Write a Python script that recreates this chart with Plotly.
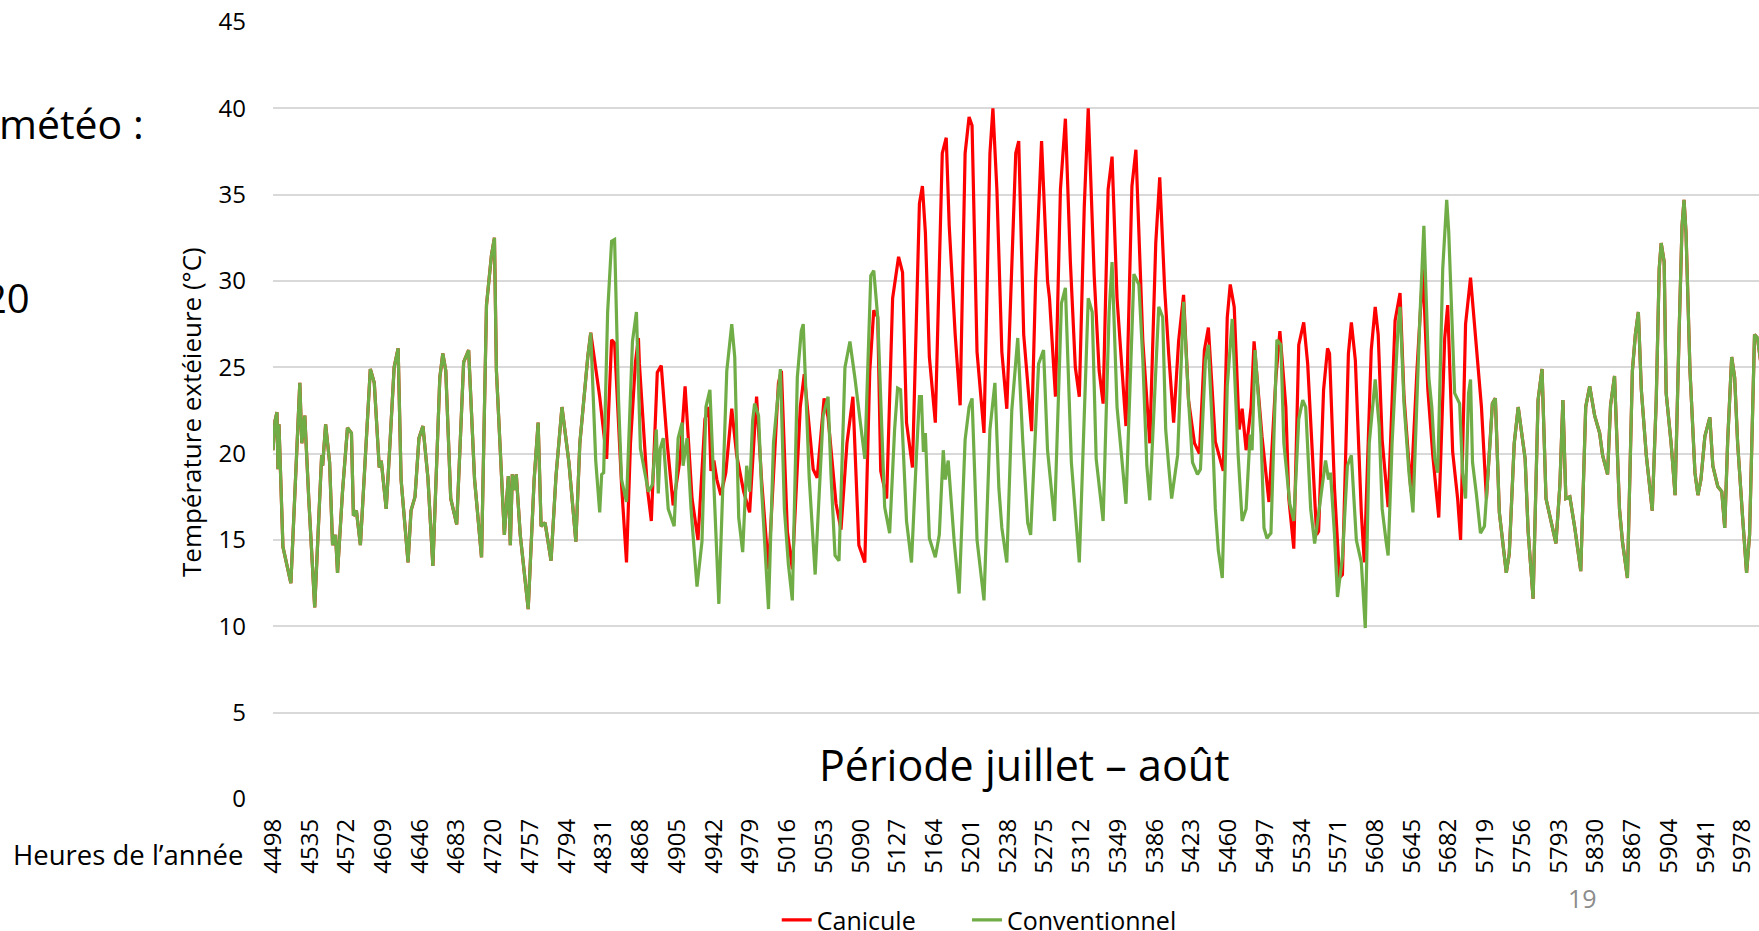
import plotly.graph_objects as go

# Heures de l'année (axe X) – étiquettes affichées
tick_hours = [4498, 4535, 4572, 4609, 4646, 4683, 4720, 4757, 4794, 4831, 4868,
              4905, 4942, 4979, 5016, 5053, 5090, 5127, 5164, 5201, 5238, 5275,
              5312, 5349, 5386, 5423, 5460, 5497, 5534, 5571, 5608, 5645, 5682,
              5719, 5756, 5793, 5830, 5867, 5904, 5941, 5978]

# Conventionnel : points relevés (heure, température)
conv_hours = [4498, 4500, 4502, 4503, 4504, 4508, 4516, 4525, 4527, 4530, 4534, 4540,
              4547, 4548, 4551, 4555, 4558, 4561, 4563, 4568, 4573, 4577, 4579, 4582,
              4586, 4591, 4596, 4600, 4605, 4607, 4612, 4616, 4620, 4624, 4627, 4634,
              4637, 4641, 4645, 4649, 4654, 4659, 4666, 4669, 4672, 4677, 4683, 4690,
              4695, 4701, 4708, 4713, 4718, 4721, 4723, 4731, 4735, 4737, 4739, 4741,
              4743, 4747, 4755, 4761, 4765, 4768, 4772, 4778, 4783, 4789, 4796, 4803,
              4807, 4815, 4818, 4823, 4827, 4829, 4831, 4835, 4839, 4842, 4846, 4849,
              4854, 4860, 4864, 4868, 4872, 4876, 4880, 4884, 4886, 4888, 4891, 4896,
              4902, 4906, 4910, 4911, 4915, 4919, 4925, 4930, 4934, 4938, 4947, 4955,
              4960, 4963, 4967, 4971, 4975, 4978, 4981, 4983, 4987, 4990, 4997, 5002,
              5009, 5013, 5017, 5021, 5026, 5030, 5032, 5038, 5044, 5052, 5057, 5060,
              5064, 5068, 5074, 5079, 5084, 5094, 5100, 5103, 5107, 5110, 5114, 5119,
              5124, 5127, 5130, 5136, 5141, 5146, 5149, 5151, 5153, 5155, 5159, 5165,
              5169, 5173, 5175, 5178, 5184, 5189, 5195, 5199, 5202, 5207, 5214, 5220,
              5225, 5229, 5232, 5237, 5242, 5248, 5249, 5253, 5258, 5261, 5269, 5274,
              5278, 5285, 5292, 5296, 5302, 5310, 5319, 5323, 5327, 5334, 5340, 5343,
              5348, 5357, 5365, 5370, 5374, 5378, 5381, 5390, 5394, 5397, 5400, 5403,
              5409, 5415, 5420, 5424, 5429, 5432, 5437, 5440, 5444, 5447, 5450, 5454,
              5459, 5464, 5470, 5474, 5478, 5482, 5484, 5487, 5493, 5496, 5499, 5503,
              5509, 5513, 5516, 5522, 5526, 5531, 5535, 5538, 5543, 5547, 5553, 5558,
              5561, 5563, 5567, 5570, 5575, 5580, 5584, 5589, 5594, 5598, 5602, 5608,
              5612, 5615, 5619, 5621, 5625, 5631, 5633, 5637, 5642, 5646, 5653, 5657,
              5662, 5665, 5668, 5671, 5676, 5680, 5682, 5688, 5693, 5696, 5699, 5702,
              5704, 5706, 5710, 5714, 5718, 5720, 5724, 5726, 5729, 5733, 5740, 5743,
              5748, 5752, 5755, 5759, 5762, 5767, 5772, 5776, 5780, 5786, 5790, 5794,
              5797, 5800, 5804, 5809, 5815, 5820, 5824, 5829, 5834, 5837, 5842, 5845,
              5849, 5854, 5857, 5862, 5866, 5867, 5870, 5873, 5876, 5881, 5887, 5891,
              5894, 5896, 5899, 5901, 5906, 5910, 5914, 5917, 5919, 5921, 5925, 5930,
              5933, 5936, 5940, 5945, 5948, 5953, 5957, 5960, 5963, 5967, 5970, 5973,
              5978, 5982, 5985, 5988, 5990, 5993, 5996]
conv_temp = [20.2, 21.9, 22.4, 19.1, 21.7, 14.6, 12.5, 24.1, 20.6, 22.2, 17.4, 11.1,
             19.9, 19.3, 21.7, 19.5, 14.7, 15.3, 13.1, 17.8, 21.5, 21.2, 16.4, 16.7,
             14.7, 19.9, 24.9, 24.1, 19.2, 19.6, 16.8, 20.8, 25.0, 26.1, 18.5, 13.7,
             16.7, 17.5, 20.9, 21.6, 18.6, 13.5, 24.4, 25.8, 24.8, 17.4, 15.9, 25.3,
             26.0, 18.5, 14.0, 28.6, 31.5, 32.5, 24.8, 15.3, 18.7, 14.7, 18.8, 17.9,
             18.8, 15.3, 11.0, 18.5, 21.8, 15.8, 16.0, 13.8, 18.7, 22.7, 19.5, 14.9,
             20.6, 25.6, 27.0, 19.6, 16.6, 18.8, 18.9, 28.2, 32.3, 32.4, 23.1, 18.5,
             17.2, 26.5, 28.2, 20.3, 19.1, 17.8, 18.2, 21.4, 17.7, 20.3, 20.9, 16.8,
             15.8, 20.9, 21.8, 19.3, 20.9, 16.8, 12.3, 14.9, 22.7, 23.7, 11.3, 24.8,
             27.5, 25.6, 16.3, 14.3, 19.3, 17.8, 21.9, 22.9, 22.2, 18.0, 11.0, 20.6,
             24.9, 16.8, 13.6, 11.5, 24.4, 27.1, 27.5, 18.6, 13.0, 22.2, 23.3, 18.7,
             14.1, 13.8, 25.0, 26.5, 24.4, 19.7, 30.3, 30.6, 27.9, 22.7, 16.9, 15.4,
             21.4, 23.8, 23.7, 16.1, 13.7, 19.9, 23.3, 23.3, 20.1, 21.2, 15.1, 14.0,
             15.3, 20.2, 18.5, 19.6, 14.9, 11.9, 20.8, 22.7, 23.2, 15.0, 11.5, 21.4,
             24.1, 18.0, 15.7, 13.7, 22.5, 26.7, 25.4, 20.8, 16.0, 15.3, 25.2, 26.0,
             20.2, 16.1, 28.7, 29.6, 19.5, 13.7, 29.0, 28.2, 19.7, 16.1, 28.2, 31.1,
             22.7, 17.1, 30.4, 29.8, 25.4, 19.3, 17.3, 28.5, 27.9, 21.4, 19.3, 17.4,
             19.9, 28.8, 23.1, 19.5, 18.8, 19.1, 25.4, 26.3, 21.4, 16.8, 14.4, 12.8,
             23.9, 27.8, 19.9, 16.1, 16.8, 21.1, 20.2, 26.0, 21.1, 15.7, 15.1, 15.4,
             26.6, 26.3, 20.6, 17.1, 16.1, 22.0, 23.1, 22.7, 16.8, 14.8, 17.4, 19.6,
             18.5, 18.9, 15.3, 11.7, 14.0, 19.3, 19.9, 15.0, 13.7, 9.9, 20.6, 24.3,
             21.6, 16.8, 14.9, 14.1, 20.6, 27.3, 28.5, 22.9, 18.9, 16.6, 27.9, 33.2,
             24.4, 22.7, 19.7, 18.9, 30.7, 34.7, 32.9, 23.5, 22.9, 18.9, 17.4, 23.5,
             24.3, 19.5, 17.6, 15.4, 15.8, 17.4, 20.9, 22.9, 23.2, 16.6, 13.1, 14.2,
             20.6, 22.7, 21.4, 19.7, 15.5, 11.6, 23.1, 24.9, 17.4, 15.9, 14.8, 18.2,
             23.1, 17.4, 17.5, 15.7, 13.2, 22.7, 23.9, 22.2, 21.2, 19.9, 18.8, 22.8,
             24.5, 16.8, 14.9, 12.8, 21.6, 24.8, 26.9, 28.2, 23.7, 19.9, 16.7, 23.1,
             30.7, 32.2, 31.1, 23.5, 20.6, 17.6, 26.9, 33.2, 34.7, 32.8, 24.8, 18.9,
             17.6, 18.5, 21.0, 22.1, 19.3, 18.1, 17.8, 15.7, 20.8, 25.6, 24.4, 20.6,
             16.3, 13.1, 15.3, 22.7, 26.9, 26.7, 25.4]

# Canicule : partie qui s'écarte du conventionnel (4818 -> 5720)
canic_hours = [4818, 4827, 4834, 4839, 4842, 4849, 4854, 4858, 4863, 4866, 4867, 4875,
               4879, 4885, 4889, 4895, 4901, 4908, 4913, 4920, 4926, 4933, 4937, 4939,
               4942, 4945, 4949, 4954, 4960, 4965, 4972, 4978, 4985, 4990, 4997, 5007,
               5010, 5016, 5021, 5029, 5033, 5042, 5046, 5053, 5057, 5065, 5070, 5076,
               5082, 5088, 5094, 5099, 5103, 5107, 5110, 5116, 5122, 5128, 5132, 5136,
               5142, 5149, 5152, 5155, 5159, 5165, 5172, 5176, 5179, 5185, 5190, 5195,
               5199, 5202, 5207, 5214, 5220, 5223, 5227, 5232, 5237, 5246, 5249, 5254,
               5262, 5266, 5272, 5278, 5280, 5286, 5291, 5296, 5301, 5306, 5310, 5315,
               5319, 5325, 5330, 5334, 5339, 5343, 5348, 5357, 5363, 5367, 5374, 5381,
               5387, 5391, 5396, 5400, 5405, 5410, 5415, 5420, 5426, 5431, 5436, 5440,
               5444, 5447, 5455, 5459, 5462, 5466, 5471, 5474, 5478, 5483, 5486, 5494,
               5501, 5508, 5512, 5518, 5521, 5526, 5531, 5536, 5540, 5545, 5549, 5551,
               5556, 5560, 5562, 5567, 5568, 5572, 5575, 5581, 5584, 5588, 5594, 5597,
               5604, 5608, 5611, 5615, 5621, 5628, 5633, 5637, 5644, 5650, 5656, 5661,
               5666, 5672, 5678, 5681, 5686, 5691, 5694, 5699, 5704, 5709, 5715, 5720]
canic_temp = [27.0, 23.3, 19.7, 26.6, 26.4, 18.2, 13.7, 20.6, 25.3, 26.7, 25.2, 18.0,
              16.1, 24.7, 25.1, 20.6, 17.0, 19.7, 23.9, 17.4, 15.0, 22.0, 22.7, 19.0,
              19.6, 18.5, 17.6, 18.9, 22.6, 19.9, 17.8, 16.6, 23.3, 18.5, 13.3, 24.1,
              24.8, 15.5, 13.3, 22.7, 24.6, 19.1, 18.6, 23.2, 22.1, 17.1, 15.6, 20.6,
              23.3, 14.7, 13.7, 24.8, 28.3, 27.9, 19.0, 17.4, 29.0, 31.4, 30.5, 21.8,
              19.2, 34.5, 35.5, 32.8, 25.6, 21.8, 37.4, 38.3, 33.2, 26.9, 22.8, 37.4,
              39.5, 39.0, 25.9, 21.2, 37.4, 40.0, 35.3, 25.9, 22.6, 37.4, 38.1, 26.9,
              21.3, 30.0, 38.1, 30.0, 29.0, 23.3, 35.3, 39.4, 31.1, 25.0, 23.3, 34.3,
              40.0, 30.3, 24.8, 22.9, 35.3, 37.2, 29.0, 21.6, 35.5, 37.6, 26.5, 20.6,
              32.2, 36.0, 29.5, 25.8, 21.8, 26.5, 29.2, 23.1, 20.6, 20.0, 26.0, 27.3,
              23.7, 20.7, 19.0, 27.9, 29.8, 28.5, 21.4, 22.6, 20.2, 22.7, 26.5, 21.0,
              17.2, 24.4, 27.1, 22.7, 17.4, 14.5, 26.3, 27.6, 25.2, 19.5, 15.3, 15.5,
              23.7, 26.1, 25.8, 18.0, 16.8, 12.8, 13.0, 25.8, 27.6, 25.4, 16.6, 13.7,
              26.0, 28.5, 26.9, 20.8, 16.9, 27.7, 29.3, 23.3, 17.8, 24.8, 30.7, 23.7,
              19.9, 16.3, 26.7, 28.6, 20.1, 17.4, 15.0, 27.5, 30.2, 26.9, 22.7, 17.4]

# Canicule complet = conventionnel hors de la période qui diffère
start, end = canic_hours[0], canic_hours[-1]
before = [(h, t) for h, t in zip(conv_hours, conv_temp) if h < start]
after = [(h, t) for h, t in zip(conv_hours, conv_temp) if h > end]
canic_full_h = [h for h, _ in before] + canic_hours + [h for h, _ in after]
canic_full_t = [t for _, t in before] + canic_temp + [t for _, t in after]

FONT = "Open Sans"
legend_font = dict(family=FONT, size=25, color="#000000")

fig = go.Figure()
fig.add_trace(go.Scatter(x=canic_full_h, y=canic_full_t, mode="lines", name="Canicule",
                         line=dict(color="#ff0000", width=3.2), legend="legend"))
fig.add_trace(go.Scatter(x=conv_hours, y=conv_temp, mode="lines", name="Conventionnel",
                         line=dict(color="#70ad47", width=3.2), legend="legend2"))

fig.update_xaxes(
    range=[4498, 5994.5],
    tickmode="array",
    tickvals=tick_hours,
    ticktext=[str(h) for h in tick_hours],
    tickangle=-90,
    showgrid=False,
    zeroline=False,
    showline=False,
    ticks="",
    ticklabelstandoff=14,
    automargin=False,
    tickfont=dict(family=FONT, size=24, color="#000000"),
)
fig.update_yaxes(
    range=[0, 45],
    dtick=5,
    showgrid=True,
    gridcolor="#d9d9d9",
    gridwidth=2,
    zeroline=False,
    showline=False,
    ticks="",
    ticklabelstandoff=26,
    automargin=False,
    tickfont=dict(family=FONT, size=24, color="#000000"),
)

fig.update_layout(
    width=1759,
    height=931,
    margin=dict(l=273, r=0, t=22, b=132, autoexpand=False),
    paper_bgcolor="white",
    plot_bgcolor="white",
    font=dict(family=FONT, color="#000000"),
    showlegend=True,
    legend=dict(orientation="h", x=0.339, xanchor="left", y=-0.156, yanchor="middle",
                font=legend_font, bgcolor="rgba(0,0,0,0)"),
    legend2=dict(orientation="h", x=0.467, xanchor="left", y=-0.156, yanchor="middle",
                 font=legend_font, bgcolor="rgba(0,0,0,0)"),
    annotations=[
        dict(text="Période juillet – août", xref="paper", yref="paper", x=0.506, y=0.044,
             xanchor="center", yanchor="middle", showarrow=False,
             font=dict(family=FONT, size=43, color="#000000")),
        dict(text="Température extéieure (°C)", xref="paper", yref="paper", x=-0.0552,
             y=0.498, textangle=-90, xanchor="center", yanchor="middle", showarrow=False,
             font=dict(family=FONT, size=26, color="#000000")),
        dict(text="Heures de l’année", xref="paper", yref="paper", x=-0.0188, y=-0.072,
             xanchor="right", yanchor="middle", showarrow=False,
             font=dict(family=FONT, size=27.5, color="#000000")),
        dict(text="météo :", xref="paper", yref="paper", x=-0.0855, y=0.870,
             xanchor="right", yanchor="middle", showarrow=False,
             font=dict(family=FONT, size=41, color="#000000")),
        dict(text="20", xref="paper", yref="paper", x=-0.1622, y=0.646,
             xanchor="right", yanchor="middle", showarrow=False,
             font=dict(family=FONT, size=40, color="#000000")),
        dict(text="19", xref="paper", yref="paper", x=0.881, y=-0.127,
             xanchor="center", yanchor="middle", showarrow=False,
             font=dict(family=FONT, size=25, color="#8c8c8c")),
    ],
)

# la page HTML a une marge de 8 px par défaut : on la supprime
fig.write_html("out.html", config={"displayModeBar": False},
               post_script="document.body.style.margin = '0px';")
